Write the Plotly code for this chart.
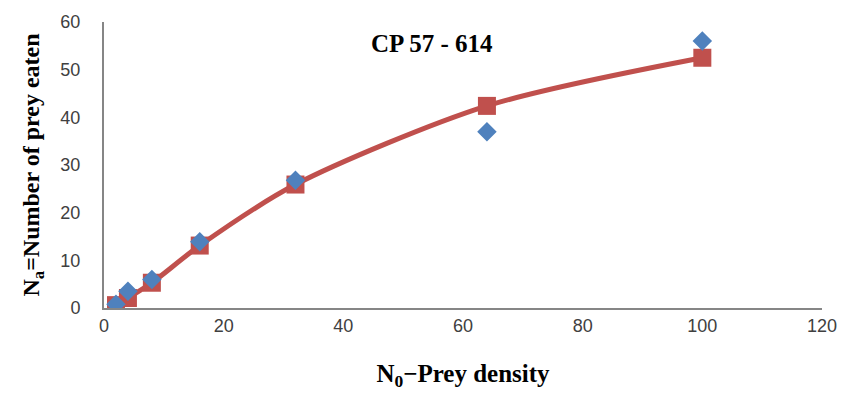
import plotly.graph_objects as go

prey_density = [2, 4, 8, 16, 32, 64, 100]
observed = [0.8, 3.5, 6.0, 13.9, 26.8, 37.0, 56.0]
predicted = [0.6, 2.1, 5.3, 13.1, 25.9, 42.4, 52.5]

title_text = "CP 57 - 614"
x_title = "N<sub>0</sub>\u2212Prey density"
y_title = "N<sub>a</sub>=Number of prey eaten"

fig = go.Figure()
fig.add_trace(go.Scatter(
    x=prey_density, y=predicted, mode="lines+markers",
    line=dict(color="#C0504D", width=5, shape="spline", smoothing=0.8),
    marker=dict(symbol="square", size=18, color="#C0504D"),
    name="Predicted", showlegend=False))
fig.add_trace(go.Scatter(
    x=prey_density, y=observed, mode="markers",
    marker=dict(symbol="diamond", size=15, color="#4F81BD"),
    name="Observed", showlegend=False))

tick_font = dict(family="Liberation Sans Narrow, Liberation Sans, sans-serif", size=18, color="#404040")
x_title_font = dict(family="Liberation Serif, serif", size=25, color="black")
y_title_font = dict(family="Liberation Serif, serif", size=24, color="black")

fig.update_layout(
    width=849, height=397,
    margin=dict(l=104, r=21, t=19, b=89),
    paper_bgcolor="white", plot_bgcolor="white",
    xaxis=dict(range=[0, 120], dtick=20, showgrid=False, zeroline=False,
               showline=True, linecolor="#868686", linewidth=2,
               ticks="", tickfont=tick_font,
               title=dict(text="<b>" + x_title + "</b>", font=x_title_font, standoff=30)),
    yaxis=dict(range=[0, 60], dtick=10, showgrid=False, zeroline=False,
               showline=True, linecolor="#868686", linewidth=2,
               ticks="", tickfont=tick_font, ticklabelstandoff=18,
               title=dict(text="<b>" + y_title + "</b>", font=y_title_font, standoff=14)),
    annotations=[dict(text="<b>" + title_text + "</b>", x=0.457, y=0.924,
                      xref="paper", yref="paper", showarrow=False,
                      xanchor="center", yanchor="middle",
                      font=dict(family="Liberation Serif, serif", size=25, color="black"))],
)

fig.write_html("out.html")
